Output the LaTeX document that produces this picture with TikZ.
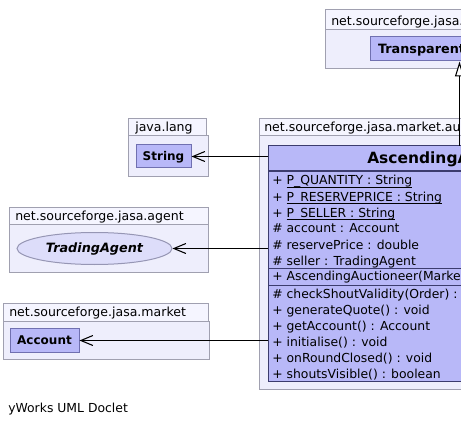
\documentclass[tikz,border=0pt]{standalone}
\usepackage{fontspec}
\setmainfont{DejaVu Sans}
\usetikzlibrary{shapes.geometric,arrows.meta}
\definecolor{pkgbody}{RGB}{238,238,252}
\definecolor{pkgtab}{RGB}{245,245,255}
\definecolor{pkgline}{RGB}{160,160,176}
\definecolor{clsfill}{RGB}{184,184,248}
\definecolor{clsline}{RGB}{112,112,176}
\definecolor{mainline}{RGB}{60,60,110}
\definecolor{ifcfill}{RGB}{221,221,250}
\definecolor{ifcline}{RGB}{150,150,180}
\tikzset{
  pkg/.style={draw=pkgline, fill=pkgbody, line width=0.75pt},
  pkgtabbox/.style={draw=pkgline, fill=pkgtab, line width=0.75pt},
  pkgname/.style={anchor=base west, inner sep=0pt, font=\fontsize{9.4}{11}\selectfont},
  cls/.style={draw=clsline, fill=clsfill, line width=0.75pt, inner sep=0pt,
    text height=6.6pt, text depth=0pt, font=\fontsize{9}{10}\selectfont\bfseries},
  member/.style={anchor=base west, inner sep=0pt, font=\fontsize{9.3}{11}\selectfont},
  dep/.style={line width=0.8pt, -{Straight Barb[length=9pt,width=7.5pt]}},
  gen/.style={line width=0.8pt, -{Triangle[open,length=11.25pt,width=6.75pt,fill=white]}}
}
\begin{document}
\begin{tikzpicture}[x=0.75pt,y=-0.75pt]
    \useasboundingbox (0,0) rectangle (461,428);
    \clip (0,0) rectangle (461,428);
    % packages
    \draw[pkgtabbox] (325,10) rectangle (620,30);
    \draw[pkg] (325,30) rectangle (620,69);
    \node[pkgname] at (331,25.5) {net.sourceforge.jasa.market};
    \draw[pkgtabbox] (128,119) rectangle (206,136);
    \draw[pkg] (128,136) rectangle (208,176);
    \node[pkgname] at (135,132) {java.lang};
    \draw[pkgtabbox] (9,207) rectangle (208,224);
    \draw[pkg] (9,224) rectangle (208,272);
    \node[pkgname] at (15,220) {net.sourceforge.jasa.agent};
    \draw[pkgtabbox] (3,303) rectangle (208,321);
    \draw[pkg] (3,321) rectangle (209,359);
    \node[pkgname] at (9,316.5) {net.sourceforge.jasa.market};
    \draw[pkgtabbox] (259,119) rectangle (640,136);
    \draw[pkg] (259,136) rectangle (640,389);
    \node[pkgname] at (264,132) {net.sourceforge.jasa.market.auctioneer};
    % classes
    \node[cls, minimum width=142.5pt, minimum height=18pt] (trans) at (465,49) {};
    \node[cls, anchor=west, fill=none, draw=none, font=\fontsize{9.6}{11}\selectfont\bfseries]
      at ([xshift=6pt]trans.west) {TransparentAuctioneer};
    \node[cls, minimum width=41.25pt, minimum height=17.25pt] (string) at (163.5,156.5) {String};
    \node[cls, ellipse, draw=ifcline, fill=ifcfill, minimum width=116.25pt, minimum height=24pt,
      font=\fontsize{9.6}{11}\selectfont\bfseries\itshape] (agent) at (94.5,248.5) {TradingAgent};
    \node[cls, minimum width=51.75pt, minimum height=18pt] (account) at (44.5,340.5) {Account};
    % AscendingAuctioneer
    \node[cls, draw=mainline, minimum width=294pt, minimum height=176.25pt] (main) at (464,263.5) {};
    \node[member, font=\fontsize{11.6}{13}\selectfont\bfseries] at (367,164) {AscendingAuctioneer};
    \draw[mainline, line width=0.75pt] (268,171) -- (660,171);
    \draw[mainline, line width=0.75pt] (268,268) -- (660,268);
    \draw[mainline, line width=0.75pt] (268,285) -- (660,285);
    \foreach \y/\txt in {185/P\_QUANTITY : String, 201/P\_RESERVEPRICE : String, 217/P\_SELLER : String}
      \node[member] at (272,\y) {+ \underline{\smash{\txt}}};
    \foreach \y/\txt in {233/account : Account, 249/reservePrice : double, 265/seller : TradingAgent}
      \node[member] at (272,\y) {\# \txt};
    \node[member] at (272,280.5) {+ AscendingAuctioneer(Market)};
    \node[member] at (272,298) {\# checkShoutValidity(Order) : void};
    \foreach \y/\txt in {314/generateQuote() : void, 330/getAccount() : Account,
      346/initialise() : void, 362/onRoundClosed() : void, 378/shoutsVisible() : boolean}
      \node[member] at (272,\y) {+ \txt};
    % connectors
    \coordinate (up) at (459.5,146);
    \draw[gen] (up) -- (up |- trans.south);
    \draw[dep] (string.east -| main.west) -- (string.east);
    \draw[dep] (agent.east -| main.west) -- (agent.east);
    \draw[dep] (account.east -| main.west) -- (account.east);
    \node[member] at (8,412) {yWorks UML Doclet};
\end{tikzpicture}
\end{document}
